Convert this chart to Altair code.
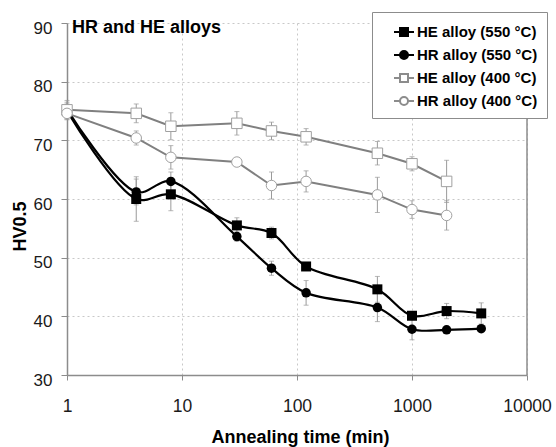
import altair as alt
import pandas as pd

# ---------------- data ----------------
series_names = ["HE alloy (550 °C)", "HR alloy (550 °C)", "HE alloy (400 °C)", "HR alloy (400 °C)"]
time_550 = [1, 4, 8, 30, 60, 120, 500, 1000, 2000, 4000]
time_400 = [1, 4, 8, 30, 60, 120, 500, 1000, 2000]

he_550 = [75.0, 60.0, 60.8, 55.5, 54.2, 48.5, 44.6, 40.1, 40.9, 40.5]
hr_550 = [75.3, 61.2, 63.0, 53.6, 48.2, 44.0, 41.5, 37.8, 37.7, 37.9]
he_400 = [75.2, 74.6, 72.4, 72.9, 71.6, 70.6, 67.8, 66.0, 63.0]
hr_400 = [74.6, 70.4, 67.1, 66.3, 62.3, 63.0, 60.7, 58.2, 57.2]

he_550_err = [1.5, 3.8, 2.8, 1.3, 1.0, 0.6, 2.2, 0.6, 1.3, 1.8]
hr_550_err = [1.5, 2.2, 1.6, 0.8, 1.2, 2.1, 2.4, 1.8, 0.5, 0.5]
he_400_err = [1.0, 1.6, 2.3, 2.0, 1.5, 1.4, 2.0, 1.2, 3.6]
hr_400_err = [1.0, 1.2, 2.0, 0.5, 2.3, 1.8, 3.0, 1.5, 2.5]

x_ticks = [1, 10, 100, 1000, 10000]
y_ticks = [30, 40, 50, 60, 70, 80, 90]
title_text = ["HR and HE alloys"]
right_edge_x = [10000]
right_edge_lo = [30]
right_edge_hi = [90]

rows = []
for name, ts, vs, es in zip(series_names,
                            [time_550, time_550, time_400, time_400],
                            [he_550, hr_550, he_400, hr_400],
                            [he_550_err, hr_550_err, he_400_err, hr_400_err]):
    for t, v, e in zip(ts, vs, es):
        rows.append({"series": name, "t": t, "v": v, "lo": v - e, "hi": v + e})
df = pd.DataFrame(rows)

FONT = "Liberation Sans"
GRID = "#c8c8c8"
AXC = "#8c8c8c"

x_scale = alt.Scale(type="log", domain=[1, 10000])
y_scale = alt.Scale(domain=[30, 90], zero=False)

x_axis = alt.Axis(values=x_ticks, format="d", grid=True, gridDash=[2, 3], gridColor=GRID,
                  domainColor=AXC, domainWidth=1.5, tickColor=AXC, tickSize=5,
                  labelFont=FONT, labelFontSize=17.5, labelColor="#1a1a1a",
                  labelBaseline="alphabetic", labelPadding=31.5, labelFlush=False,
                  titleFont=FONT, titleFontSize=18, titleFontWeight="bold", titleColor="#000",
                  titleBaseline="alphabetic", titleX=233, titleY=67.7)
y_axis = alt.Axis(values=y_ticks, grid=True, gridDash=[2, 3], gridColor=GRID,
                  domainColor=AXC, domainWidth=1.5, tickColor=AXC, tickSize=6,
                  labelFont=FONT, labelFontSize=17, labelColor="#1a1a1a",
                  labelBaseline="middle", labelOffset=5, labelPadding=9,
                  titleFont=FONT, titleFontSize=18, titleFontWeight="bold", titleColor="#000",
                  titleBaseline="alphabetic", titleAngle=270, titleAlign="center",
                  titleX=-41.5, titleY=203)

X = alt.X("t:Q", scale=x_scale, axis=x_axis, title="Annealing time (min)")
Y = alt.Y("v:Q", scale=y_scale, axis=y_axis, title="HV0.5")
Ylo = alt.Y("lo:Q", scale=y_scale, axis=y_axis, title="HV0.5")
Yhi = alt.Y("hi:Q", scale=y_scale, axis=y_axis, title="HV0.5")

base = alt.Chart(df)

def sel(name):
    return alt.datum.series == name

ERR = "#9a9a9a"
err_rules = base.mark_rule(color=ERR, strokeWidth=1).encode(x=X, y=Ylo, y2="hi:Q")
err_lo = base.mark_tick(orient="horizontal", size=5, thickness=1, color=ERR).encode(x=X, y=Ylo)
err_hi = base.mark_tick(orient="horizontal", size=5, thickness=1, color=ERR).encode(x=X, y=Yhi)

border_df = pd.DataFrame({"t": right_edge_x, "lo": right_edge_lo, "hi": right_edge_hi})
border = alt.Chart(border_df).mark_rule(color=AXC, strokeWidth=1.5).encode(
    x=X, y=Ylo, y2="hi:Q")

line_he550 = base.transform_filter(sel(series_names[0])).mark_line(
    color="black", strokeWidth=2.2, interpolate="catmull-rom").encode(x=X, y=Y)
line_hr550 = base.transform_filter(sel(series_names[1])).mark_line(
    color="black", strokeWidth=2.2, interpolate="catmull-rom").encode(x=X, y=Y)
pts_he550 = base.transform_filter(sel(series_names[0])).mark_point(
    shape="square", filled=True, color="black", size=100, opacity=1).encode(x=X, y=Y)
pts_hr550 = base.transform_filter(sel(series_names[1])).mark_point(
    shape="circle", filled=True, color="black", size=90, opacity=1).encode(x=X, y=Y)

line_he400 = base.transform_filter(sel(series_names[2])).mark_line(
    color="#808080", strokeWidth=2).encode(x=X, y=Y)
line_hr400 = base.transform_filter(sel(series_names[3])).mark_line(
    color="#808080", strokeWidth=2).encode(x=X, y=Y)
pts_he400 = base.transform_filter(sel(series_names[2])).mark_point(
    shape="square", filled=False, fill="white", stroke="#a0a0a0", strokeWidth=1,
    size=110, opacity=1, fillOpacity=1).encode(x=X, y=Y)
pts_hr400 = base.transform_filter(sel(series_names[3])).mark_point(
    shape="circle", filled=False, fill="white", stroke="#a0a0a0", strokeWidth=1,
    size=110, opacity=1, fillOpacity=1).encode(x=X, y=Y)

sq = "M-0.4,-0.4H0.4V0.4H-0.4Z"
ci = "M-0.4,0A0.4,0.4,0,1,1,0.4,0A0.4,0.4,0,1,1,-0.4,0Z"
seg = "M-1,0H-0.4M0.4,0H1"
legend_paths = [seg + sq, seg + ci, seg + sq, seg + ci]

leg = alt.Legend(title=None, orient="none", legendX=305, legendY=-11, padding=9,
                 rowPadding=4, symbolSize=400, symbolOffset=12, labelOffset=2,
                 symbolStrokeWidth=2, symbolOpacity=1,
                 labelFont=FONT, labelFontSize=15, labelFontWeight="bold", labelColor="#000",
                 strokeColor=AXC, fillColor="white", cornerRadius=0, labelLimit=300)

legend_layer = base.mark_point(opacity=0, filled=True).encode(
    x=X, y=Y,
    shape=alt.Shape("series:N", scale=alt.Scale(domain=series_names, range=legend_paths), legend=leg),
    fill=alt.Fill("series:N", scale=alt.Scale(domain=series_names,
                                             range=["black", "black", "white", "white"]), legend=leg),
    stroke=alt.Stroke("series:N", scale=alt.Scale(domain=series_names,
                                                 range=["black", "black", "#8c8c8c", "#8c8c8c"]), legend=leg),
)

title_layer = alt.Chart(pd.DataFrame({"label": title_text})).mark_text(
    align="left", baseline="alphabetic", font=FONT, fontSize=18, fontWeight="bold", color="#000"
).encode(x=alt.value(5), y=alt.value(9.7), text="label:N")

chart = alt.layer(
    border, err_rules, err_lo, err_hi,
    line_he550, line_hr550, pts_he550, pts_hr550,
    line_he400, line_hr400, pts_he400, pts_hr400,
    legend_layer, title_layer,
).properties(
    width=460, height=352,
    padding={"left": 67, "top": 23, "right": 29, "bottom": 72},
    autosize=alt.AutoSizeParams(type="none"),
    background="white",
).configure_view(stroke=None)

chart.save("out.html", embed_options={"renderer": "svg", "actions": False})
